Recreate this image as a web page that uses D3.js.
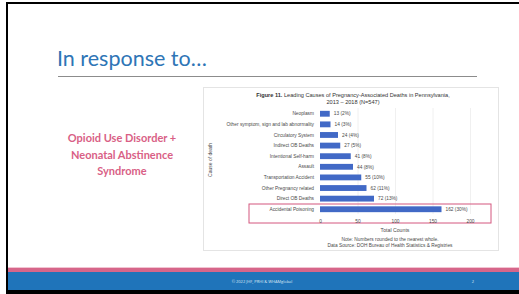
<!DOCTYPE html>
<html>
<head>
<meta charset="utf-8">
<script src="https://cdn.jsdelivr.net/npm/d3@7"></script>
<style>
  body { margin: 0; background: #fff; }
  svg { display: block; }
</style>
</head>
<body>
<svg id="slide"></svg>
<script>
// chart data
const categories = ['Neoplasm', 'Other symptom, sign and lab abnormality', 'Circulatory System',
  'Indirect OB Deaths', 'Intentional Self-harm', 'Assault', 'Transportation Accident',
  'Other Pregnancy related', 'Direct OB Deaths', 'Accidental Poisoning'];
const counts = [13, 14, 24, 27, 41, 44, 55, 62, 72, 162];
const pctLabels = ['2%', '3%', '4%', '5%', '8%', '8%', '10%', '11%', '13%', '30%'];
const xTicks = [0, 50, 100, 150, 200];
const leftLines = ['Opioid Use Disorder +', 'Neonatal Abstinence', 'Syndrome'];

const W = 519, H = 294;
const svg = d3.select('#slide').attr('width', W).attr('height', H);

// slide frame
svg.append('rect').attr('x', 6).attr('y', 2).attr('width', W - 6).attr('height', 2).attr('fill', '#000');
svg.append('rect').attr('x', 6).attr('y', 2).attr('width', 2).attr('height', H - 2).attr('fill', '#000');
svg.append('rect').attr('x', 6).attr('y', 290).attr('width', W - 6).attr('height', 4).attr('fill', '#000');

// footer bands
svg.append('rect').attr('x', 8).attr('y', 267).attr('width', W - 8).attr('height', 1).attr('fill', '#f2c4d2');
svg.append('rect').attr('x', 8).attr('y', 268).attr('width', W - 8).attr('height', 4).attr('fill', '#d6668a');
svg.append('rect').attr('x', 8).attr('y', 272).attr('width', W - 8).attr('height', 18).attr('fill', '#1f74ba');
svg.append('text').attr('x', 262).attr('y', 283).attr('text-anchor', 'middle')
  .style('font-family', 'Open Sans').style('font-size', '4px').attr('fill', '#dfe9f5')
  .text('© 2022 JHF, PRHI & WHAMglobal');
svg.append('text').attr('x', 473).attr('y', 283).attr('text-anchor', 'middle')
  .style('font-family', 'Open Sans').style('font-size', '4px').attr('fill', '#dfe9f5')
  .text('2');

// title
svg.append('text').attr('x', 57).attr('y', 66)
  .style('font-family', 'Lato').style('font-weight', 400).style('font-size', '21.5px')
  .attr('fill', '#2e75b6').text('In response to…');
svg.append('line').attr('x1', 58).attr('x2', 477).attr('y1', 76.5).attr('y2', 76.5)
  .attr('stroke', '#8c8c8c').attr('stroke-width', 1);

// left callout
svg.append('g').selectAll('text').data(leftLines).join('text')
  .attr('x', 122).attr('y', (d, i) => 142 + i * 16.5)
  .attr('text-anchor', 'middle')
  .style('font-family', 'Lato').style('font-weight', 700).style('font-size', '11px')
  .attr('fill', '#d95f86').text(d => d);

// embedded figure panel
svg.append('rect').attr('x', 203.5).attr('y', 87.5).attr('width', 295).attr('height', 163)
  .attr('fill', '#fff').attr('stroke', '#e4e4e4');

const font = 'Liberation Sans';
const ink = '#4a4a4a';
const fig = svg.append('g').style('font-family', font).attr('fill', ink);

const ttl = fig.append('text').attr('x', 353).attr('y', 97).attr('text-anchor', 'middle')
  .style('font-size', '5.6px').attr('fill', '#333');
ttl.append('tspan').style('font-weight', 700).text('Figure 11.');
ttl.append('tspan').text(' Leading Causes of Pregnancy-Associated Deaths in Pennsylvania,');
fig.append('text').attr('x', 353).attr('y', 104).attr('text-anchor', 'middle')
  .style('font-size', '5.6px').attr('fill', '#333').text('2013 –  2018 (N=547)');

const x = d3.scaleLinear().domain([0, 200]).range([320, 470]);
const y = d3.scaleBand().domain(categories).range([108.5, 214.5]).paddingInner(0.45).paddingOuter(0.22);

// gridlines
fig.append('g').selectAll('line').data(xTicks.slice(1)).join('line')
  .attr('x1', d => x(d) + 0.5).attr('x2', d => x(d) + 0.5)
  .attr('y1', 108).attr('y2', 214)
  .attr('stroke', '#ececec').attr('stroke-width', 0.8);

// highlight box around last row
fig.append('rect').attr('x', 249).attr('y', 204).attr('width', 242).attr('height', 19)
  .attr('fill', 'none').attr('stroke', '#d4577e').attr('stroke-width', 1);

// bars
fig.append('g').selectAll('rect').data(counts).join('rect')
  .attr('x', x(0)).attr('y', (d, i) => y(categories[i]))
  .attr('width', d => x(d) - x(0)).attr('height', y.bandwidth())
  .attr('fill', '#4169c6');

// value labels
fig.append('g').selectAll('text').data(counts).join('text')
  .attr('x', d => x(d) + 4).attr('y', (d, i) => y(categories[i]) + y.bandwidth() / 2 + 1.7)
  .style('font-size', '4.8px').text((d, i) => `${d} (${pctLabels[i]})`);

// category axis
const yAxis = fig.append('g').attr('transform', `translate(${x(0)},0)`)
  .call(d3.axisLeft(y).tickSize(0).tickPadding(6));
yAxis.select('.domain').remove();
yAxis.selectAll('text').style('font-family', font).style('font-size', '4.8px').attr('fill', ink);

// count axis
const xAxis = fig.append('g').attr('transform', 'translate(0,217)')
  .call(d3.axisBottom(x).tickValues(xTicks).tickSize(0).tickPadding(3));
xAxis.select('.domain').remove();
xAxis.selectAll('text').style('font-family', font).style('font-size', '4.8px').attr('fill', ink);

fig.append('text').attr('x', 395).attr('y', 232).attr('text-anchor', 'middle')
  .style('font-size', '5.2px').text('Total Counts');
fig.append('text').attr('transform', 'translate(212,160) rotate(-90)').attr('text-anchor', 'middle')
  .style('font-size', '5px').text('Cause of death');
fig.append('text').attr('x', 390).attr('y', 241).attr('text-anchor', 'middle')
  .style('font-size', '4.8px').text('Note: Numbers rounded to the nearest whole.');
fig.append('text').attr('x', 390).attr('y', 246.5).attr('text-anchor', 'middle')
  .style('font-size', '4.8px').text('Data Source: DOH Bureau of Health Statistics & Registries');
</script>
</body>
</html>
